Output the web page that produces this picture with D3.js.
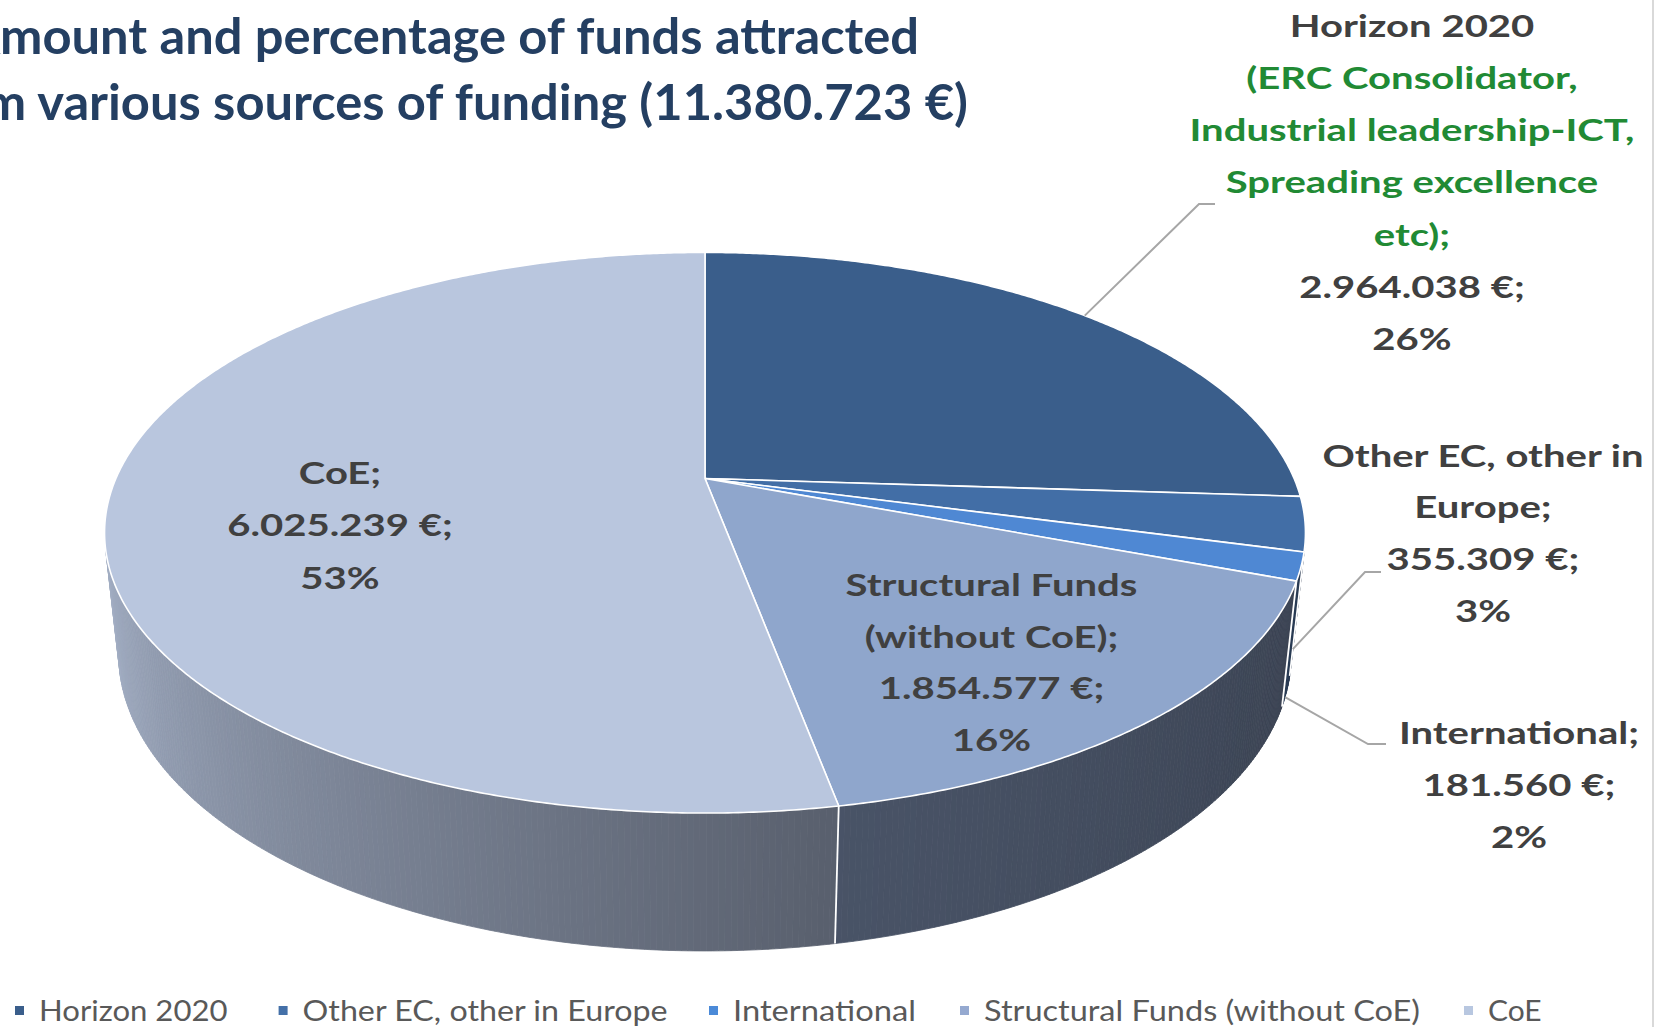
<!DOCTYPE html>
<html><head><meta charset="utf-8">
<script src="https://cdn.jsdelivr.net/npm/d3@7"></script>
<style>body{margin:0;background:#fff;} svg{display:block;}</style>
</head><body>
<svg id="chart" width="1659" height="1027"></svg>
<script>
// ---------------- data ----------------
const categories = ["Horizon 2020", "Other EC, other in Europe", "International", "Structural Funds (without CoE)", "CoE"];
const amounts = [2964038, 355309, 181560, 1854577, 6025239];
const nameLines = [["Horizon 2020"], ["Other EC, other in", "Europe;"], ["International;"], ["Structural Funds", "(without CoE);"], ["CoE;"]];
const noteLines = [["(ERC Consolidator,", "Industrial leadership-ICT,", "Spreading excellence", "etc);"], [], [], [], []];
const titleLines = ["Amount and percentage of funds attracted", "from various sources of funding (11.380.723 €)"];

// ---------------- styles / layout ----------------
const colors = ["#3a5e8b", "#426ea6", "#4f88d3", "#8fa6cc", "#b9c6de"];
const legendColors = ["#3a5e8b", "#4470a8", "#4b8ad8", "#95a9d0", "#b8c7e0"];
const labelLayout = [
  {x: 1412, y: 36.5, lh: 52.3},
  {x: 1483, y: 466.6, lh: 51.8},
  {x: 1519, y: 744, lh: 51.8},
  {x: 991.5, y: 596, lh: 51.7},
  {x: 340, y: 483.5, lh: 52.5}
];
const leaderLayout = [
  {deg: null, frac: 0, pts: [[1199, 204], [1215, 204]]},
  {deg: 104.55, frac: 0.8, pts: [[1365, 572], [1381, 572]]},
  {deg: 109, frac: 1.0, pts: [[1368, 744], [1386, 744]]}
];
const legendStarts = [39, 302.6, 733, 984, 1488];
const legendWidths = [188.5, 365, 183, 436, 53.6];

const svg = d3.select("#chart");
const total = d3.sum(amounts);
const locale = d3.formatLocale({decimal: ",", thousands: ".", grouping: [3], currency: ["", "€"]});
const fmtInt = locale.format(",d");
const fmtPct = d3.format(".0%");

// ---------------- 3D perspective projection ----------------
const geo = {cx: 705, cy: 478.5, F: 2706, R: 0.2177, Hh: 0.0508, phi: Math.asin(0.458)};
const sP = Math.sin(geo.phi), cP = Math.cos(geo.phi);
function proj(theta, yw) {
  const X = geo.R * Math.sin(theta), Z = geo.R * Math.cos(theta);
  const zc = 1 - yw * sP + Z * cP;
  const yc = yw * cP + Z * sP;
  return [geo.cx + geo.F * X / zc, geo.cy - geo.F * yc / zc];
}
const apex = [geo.cx, geo.cy];

const pie = d3.pie().sort(null).value(d => d);
const arcs = pie(amounts);

const th0 = Math.acos(-geo.R / cP), th1 = 2 * Math.PI - th0;
const deg = Math.PI / 180;
const shade = d3.scaleLinear().domain([th1, 170 * deg, th0]).range([0.15, 0.62, 0.76]).clamp(true);
const dark = "#1e2129";

const gSide = svg.append("g");
arcs.forEach((d, i) => {
  const a = Math.max(d.startAngle, th0), b = Math.min(d.endAngle, th1);
  if (b <= a) return;
  const n = Math.max(1, Math.ceil((b - a) / (0.5 * deg)));
  const step = (b - a) / n;
  for (let k = 0; k < n; k++) {
    const t0 = a + k * step, t1 = a + (k + 1) * step;
    const col = d3.interpolateRgb(colors[i], dark)(shade((t0 + t1) / 2));
    const pts = [proj(t0, 0), proj(t1, 0), proj(t1, -geo.Hh), proj(t0, -geo.Hh)];
    gSide.append("path").attr("d", d3.line()(pts) + "Z")
      .attr("fill", col).attr("stroke", col).attr("stroke-width", 0.8);
  }
});
// boundary lines on the side
arcs.forEach(d => {
  const a = d.startAngle;
  if (a > th0 && a < th1) {
    const p0 = proj(a, 0), p1 = proj(a, -geo.Hh);
    gSide.append("line").attr("x1", p0[0]).attr("y1", p0[1]).attr("x2", p1[0]).attr("y2", p1[1])
      .attr("stroke", "#fff").attr("stroke-width", 1.8);
  }
});

// top face
const gTop = svg.append("g");
arcs.forEach((d, i) => {
  const n = Math.max(2, Math.ceil((d.endAngle - d.startAngle) / (0.4 * deg)));
  const pts = [apex];
  for (let k = 0; k <= n; k++) pts.push(proj(d.startAngle + (d.endAngle - d.startAngle) * k / n, 0));
  gTop.append("path").attr("d", d3.line()(pts) + "Z")
    .attr("fill", colors[i]).attr("stroke", "#fff").attr("stroke-width", 1.6).attr("stroke-linejoin", "round");
});

// leader lines
leaderLayout.forEach((L, i) => {
  const d = arcs[i];
  const ang = L.deg == null ? (d.startAngle + d.endAngle) / 2 : L.deg * deg;
  const p = proj(ang, -geo.Hh * L.frac);
  svg.append("path").attr("d", d3.line()([p].concat(L.pts)))
    .attr("fill", "none").attr("stroke", "#a6a6a6").attr("stroke-width", 2);
});

// text measuring helper
const tmp = svg.append("text").attr("x", -9999).attr("y", -9999);
function measure(str, size, weight) {
  tmp.attr("font-family", "Lato").attr("font-size", size).attr("font-weight", weight).text(str);
  return tmp.node().getComputedTextLength();
}
const labelSize = 31;
const labelFactor = 445 / measure("Industrial leadership-ICT,", labelSize, 700);

// data labels
const gLab = svg.append("g").attr("font-family", "Lato").attr("font-weight", 700).attr("font-size", labelSize).attr("text-anchor", "middle");
arcs.forEach((d, i) => {
  const lines = [];
  nameLines[i].forEach(t => lines.push({t, c: "#404040"}));
  noteLines[i].forEach(t => lines.push({t, c: "#218a34"}));
  lines.push({t: fmtInt(amounts[i]) + " €;", c: "#404040"});
  lines.push({t: fmtPct(amounts[i] / total), c: "#404040"});
  const L = labelLayout[i];
  lines.forEach((ln, k) => {
    const w = measure(ln.t, labelSize, 700) * labelFactor;
    gLab.append("text").attr("x", L.x).attr("y", L.y + k * L.lh).attr("fill", ln.c)
      .attr("textLength", w).attr("lengthAdjust", "spacingAndGlyphs").text(ln.t);
  });
});

// title
const titleSize = 49;
const titleFactor = 919 / measure("mount and percentage of funds attracted", titleSize, 700);
const titleEnds = [{x: 919, y: 54}, {x: 968, y: 120}];
titleLines.forEach((t, k) => {
  const w = measure(t, titleSize, 700) * titleFactor;
  svg.append("text").attr("x", titleEnds[k].x).attr("y", titleEnds[k].y)
    .attr("text-anchor", "end").attr("font-family", "Lato").attr("font-weight", 700)
    .attr("font-size", titleSize).attr("fill", "#243f62")
    .attr("textLength", w).attr("lengthAdjust", "spacingAndGlyphs").text(t);
});

// legend
const legSize = 29;
const gLeg = svg.append("g");
categories.forEach((c, i) => {
  const x = legendStarts[i];
  gLeg.append("rect").attr("x", x - 24).attr("y", 1006).attr("width", 9).attr("height", 9).attr("fill", legendColors[i]);
  gLeg.append("text").attr("x", x).attr("y", 1021).attr("font-family", "Lato").attr("font-size", legSize)
    .attr("fill", "#595959").attr("textLength", legendWidths[i]).attr("lengthAdjust", "spacingAndGlyphs").text(c);
});
tmp.remove();

// right border
svg.append("line").attr("x1", 1653).attr("x2", 1653).attr("y1", 0).attr("y2", 1027)
  .attr("stroke", "#d9d9d9").attr("stroke-width", 2);
</script>
</body></html>
